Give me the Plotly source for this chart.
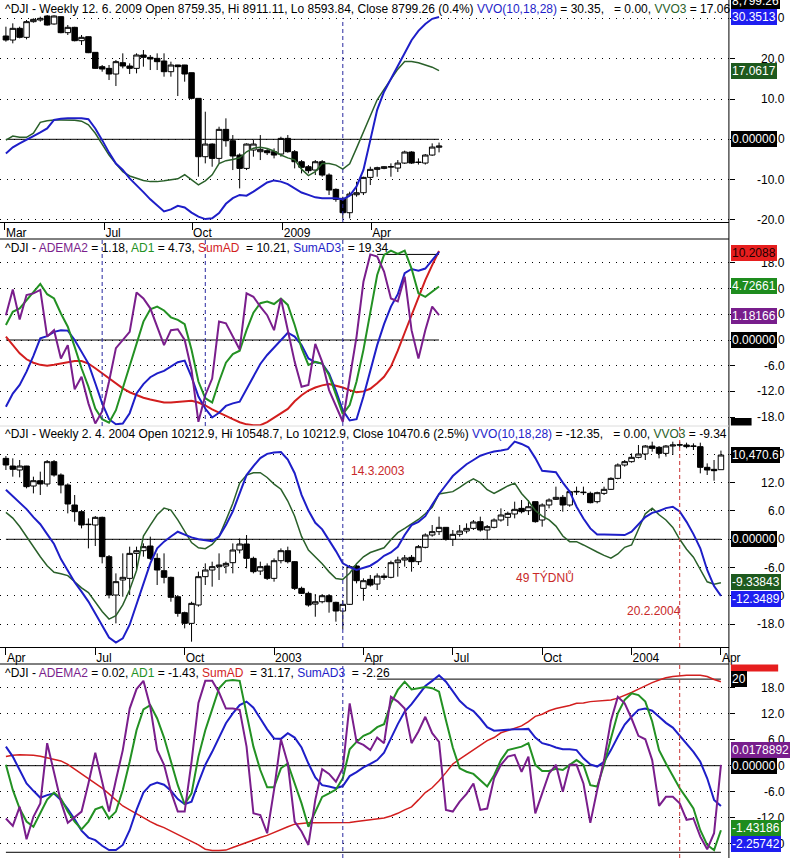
import plotly.graph_objects as go

# ============ Weekly ^DJI, Mar 2008 - Jun 2009 (panels 1 & 2) ============
OPEN_A = [12353,12224,12601,12310,12816,12870,12999,12741,12978,12461,
          12633,12202,12331,11825,11362,11308,11125,11491,11384,11308,
          11739,11664,11631,11545,11200,11416,11416,11168,10339,8454,
          8863,8400,9337,8971,8508,8077,8670,8616,8648,8616,
          8540,9046,8616,8292,8131,8023,8292,7862,7399,7108,
          6645,7226,7291,7786,8045,8077,8120,8088,8249,8605,
          8280,8249,8508,8759.35]
HIGH_A = [12654,12762,12654,12870,12924,12978,13030,13020,12990,12708,
          12650,12385,12340,11830,11416,11416,11577,11793,11470,11793,
          11901,11739,11793,11793,11524,11420,11420,11170,10340,9908,
          8885,9423,9693,9154,8562,8885,8993,9154,8724,8724,
          9100,9154,8670,8346,8185,8346,8346,7916,7431,7162,
          7323,7646,7808,8131,8131,8150,8239,8346,8650,8630,
          8400,8540,8885,8911.11]
LOW_A = [12170,12116,12277,12245,12784,12816,12690,12720,12440,12385,
         12180,12062,11800,11290,11200,10931,10737,11308,11125,11147,
         11362,11254,11254,11039,11039,10414,10877,10307,7808,8239,
         8131,8239,8777,8023,7431,8023,8454,8346,8508,8400,
         8454,8583,8077,7916,7916,7862,7808,7216,7000,6462,
         6462,7162,7216,7539,7808,8050,7808,7959,8220,8220,
         8200,8200,8480,8593.84]
CLOSE_A = [12224,12601,12310,12816,12891,12924,12708,12999,12461,12633,
           12202,12310,11814,11308,11287,11125,11524,11384,11308,11739,
           11664,11610,11524,11200,11416,11362,11125,10339,8454,8863,
           8400,9337,8971,8476,8077,8863,8863,8691,8583,8508,
           9046,8616,8292,8110,8002,8292,7862,7377,7076,6645,
           7248,7291,7786,8045,8099,8131,8131,8249,8605,8249,
           8270,8508,8766,8799.26]
VVO_A = [-3.5,-2.0,-1.0,-0.2,0.8,1.7,2.7,4.8,5.1,5.2,
         5.2,5.2,5.0,2.7,-0.2,-3.3,-6.0,-7.6,-9.7,-11.3,
         -13.1,-14.9,-16.5,-17.9,-17.4,-16.5,-16.9,-18.2,-19.2,-19.8,
         -19.6,-18.3,-16.0,-14.6,-13.8,-14.0,-13.0,-11.9,-10.7,-10.2,
         -10.5,-11.1,-12.1,-13.2,-13.8,-14.4,-14.6,-14.6,-14.6,-14.9,
         -14.0,-11.7,-7.6,-0.2,7.3,11.8,15.1,18.0,21.7,24.6,
         26.9,28.6,29.9,30.35]
VVO3_A = [-0.2,0.8,0.5,0.5,1.5,4.2,4.6,4.8,4.8,4.8,
          4.7,4.5,3.6,1.5,-1.2,-3.9,-6.1,-8.0,-9.1,-9.7,
          -10.2,-10.5,-10.5,-10.3,-10.1,-9.8,-8.8,-10.1,-11.3,-10.3,
          -8.8,-6.0,-5.3,-5.0,-4.6,-3.1,-2.2,-2.0,-2.3,-2.9,
          -3.9,-4.6,-5.1,-7.4,-9.0,-8.0,-6.0,-6.0,-6.4,-7.4,
          -6.1,-2.2,1.9,6.0,9.8,12.4,14.9,17.4,19.3,19.3,
          19.0,18.5,17.9,17.06]
ADEMA2_A = [5.8,11.8,4.8,10.5,10.9,11.7,0.8,2.3,-4.3,-1.2,
            -11.5,-8.6,-14.8,-19.5,-16.7,-9.7,-1.9,0.0,1.9,11.1,
            9.7,7.4,3.1,-1.2,2.3,2.5,0.0,-7.0,-19.1,-12.9,
            -9.0,4.3,3.9,0.8,-2.2,10.9,10.1,7.8,5.8,2.3,
            9.7,2.3,-5.1,-10.9,-10.5,-0.9,-5.1,-11.7,-15.6,-19.1,
            -9.0,0.8,13.6,20.0,19.5,16.0,9.7,9.0,14.8,2.3,
            -4.3,2.3,7.8,5.8]
AD1_A = [3.5,6.6,7.4,9.3,11.4,13.1,10.7,9.7,6.2,3.1,
         -1.6,-6.6,-10.9,-16.0,-18.5,-19.3,-16.4,-11.3,-6.2,-0.8,
         4.3,7.2,7.8,6.9,5.3,4.7,3.7,-2.3,-9.7,-13.6,
         -14.6,-9.7,-5.3,-3.3,-2.5,2.3,6.4,8.6,9.0,8.4,
         9.7,8.2,3.5,-1.9,-5.8,-5.1,-5.5,-8.2,-12.9,-17.3,
         -15.2,-9.7,-2.3,6.2,15.2,19.9,20.9,20.1,20.9,16.7,
         10.9,10.1,11.3,12.5]
SUMAD3_A = [-15.6,-12.5,-10.5,-7.4,-3.7,0.4,0.9,1.9,2.3,2.2,
            0.0,-2.9,-5.5,-10.1,-14.8,-18.5,-19.7,-19.5,-17.1,-12.5,
            -10.3,-8.7,-7.8,-7.2,-6.2,-5.2,-4.8,-8.6,-13.2,-16.0,
            -18.1,-17.0,-15.4,-14.8,-14.4,-11.5,-8.4,-5.6,-3.5,-1.7,
            0.0,1.7,0.8,-1.2,-4.3,-5.2,-5.5,-7.8,-11.8,-16.4,
            -18.8,-18.5,-13.2,-7.0,-1.2,3.7,7.8,10.7,15.6,16.6,
            16.2,16.7,18.7,20.6]
SUMAD_A = [0.8,-1.1,-3.1,-4.5,-5.3,-5.8,-6.0,-5.8,-5.5,-5.1,
           -4.9,-4.9,-5.5,-6.6,-7.8,-9.0,-10.1,-11.3,-12.2,-12.9,
           -13.5,-13.9,-14.3,-14.6,-14.6,-14.5,-14.3,-14.2,-14.6,-15.3,
           -16.2,-17.0,-17.8,-18.5,-19.2,-19.7,-19.9,-19.9,-19.2,-18.2,
           -17.1,-16.1,-14.3,-12.9,-11.8,-11.1,-10.6,-10.3,-10.7,-11.1,
           -11.7,-12.2,-12.0,-11.4,-10.1,-8.6,-6.2,-2.5,1.7,5.8,
           10.0,14.0,17.5,20.8]
TICKPOS_A = [-0.15, 14.33, 27.08, 40.26, 53.15]
TICKTEXT_A = ["Mar", "Jul", "Oct", "2009", "Apr"]
MARK_WEEKS_A1 = [49]
MARK_WEEKS_A2 = [14, 29, 49]

# ============ Weekly ^DJI, Apr 2002 - Apr 2004 (panels 3 & 4) ============
OPEN_B = [10412,10277,10207,10277,9925,10019,9961,10354,10119,9943,
          9591,9474,9245,9239,9374,8682,8007,8271,8300,8740,
          8787,8869,8652,8435,8318,7977,7696,7508,7831,8330,
          8447,8506,8517,8576,8799,8905,8652,8429,8517,8300,
          8611,8787,8594,8124,8036,7848,7889,7995,7878,7725,
          7843,8517,8124,8283,8200,8341,8318,8576,8623,8670,
          8594,8846,9063,9122,9198,8987,9075,9133,9180,9298,
          9151,9198,9327,9374,9433,9532,9491,9650,9327,9591,
          9691,9726,9591,9820,9808,9796,9650,9796,9867,10060,
          10295,10354,10430,10489,10629,10606,10500,10629,10647,10647,
          10629,10618,10254,10219,10212.9]
HIGH_B = [10453,10412,10383,10280,10090,10178,10383,10383,10148,9972,
          9767,9503,9356,9397,9386,8711,8388,8740,8858,8858,
          8916,9034,8740,8740,8330,8007,7714,7889,8418,8564,
          8594,8740,8594,8916,9004,9063,8682,8594,8564,8652,
          8828,8858,8605,8154,8066,8024,8024,8024,7889,7919,
          8535,8535,8300,8359,8388,8388,8611,8682,8711,8711,
          8887,9092,9239,9386,9200,9151,9239,9268,9327,9386,
          9239,9356,9532,9474,9650,9679,9679,9655,9620,9708,
          9914,9767,9855,9914,9914,9826,9826,9914,10078,10324,
          10383,10500,10647,10647,10706,10629,10647,10706,10706,10688,
          10676,10688,10324,10383,10548.7]
LOW_B = [10207,10090,10078,9884,9796,9767,9914,10090,9796,9444,
         9298,9180,8828,8869,8564,7948,7508,7977,8007,8459,
         8682,8623,8183,8212,7889,7625,7420,7186,7802,8183,
         8154,8271,8388,8388,8740,8476,8388,8359,8271,8242,
         8564,8564,8095,8024,7802,7625,7860,7696,7538,7403,
         7831,8212,7907,8154,8095,8271,8300,8330,8506,8418,
         8535,8828,9034,9063,8963,8869,9034,9092,9151,9122,
         8987,9180,9298,9221,9356,9444,9415,9280,9210,9532,
         9679,9474,9561,9767,9767,9620,9620,9767,9855,10043,
         10266,10336,10412,10383,10530,10412,10442,10471,10606,10588,
         10559,10148,10119,10019,10212.9]
CLOSE_B = [10295,10219,10277,9914,10019,9961,10354,10119,9943,9609,
           9474,9239,9251,9374,8682,8007,8242,8318,8740,8787,
           8858,8652,8447,8318,7966,7684,7508,7860,8330,8447,
           8506,8535,8564,8799,8905,8652,8418,8506,8300,8611,
           8787,8594,8124,8036,7831,7889,7995,7889,7725,7843,
           8506,8259,8259,8183,8341,8318,8576,8623,8660,8594,
           8858,9063,9122,9198,8987,9075,9133,9180,9292,9151,
           9210,9327,9415,9444,9515,9474,9561,9298,9591,9679,
           9726,9591,9826,9830,9815,9632,9808,9867,10060,10295,
           10354,10430,10489,10629,10588,10500,10629,10647,10650,10618,
           10625,10254,10207,10195,10470.6]
VVO_B = [10.5,9.1,7.8,6.4,4.7,3.2,1.1,-1.0,-4.2,-6.8,
         -9.1,-11.1,-13.2,-15.7,-18.3,-20.8,-21.9,-21.0,-18.1,-13.9,
         -9.5,-5.1,-1.9,-0.5,0.6,1.6,1.0,0.4,0.0,-0.2,
         -0.4,0.6,3.0,5.9,9.7,13.6,15.5,17.2,18.1,18.4,
         18.5,16.9,14.0,9.4,6.1,3.5,2.1,-0.1,-2.5,-5.1,
         -5.9,-6.5,-6.1,-5.6,-4.7,-3.5,-2.8,-1.6,0.9,3.0,
         3.7,4.9,7.3,9.6,11.5,13.4,14.7,15.9,16.8,17.7,
         18.2,18.6,18.8,19.1,20.7,20.2,19.5,17.2,14.5,14.3,
         14.2,12.0,10.1,6.9,4.4,2.3,1.0,1.0,1.0,0.9,
         0.9,1.6,3.2,4.7,5.6,6.0,6.6,6.9,5.9,3.7,
         1.1,-1.9,-6.5,-9.9,-12.0]
VVO3_B = [5.7,4.5,2.7,0.5,-1.7,-3.7,-5.6,-7.0,-7.3,-7.7,
          -9.0,-10.3,-11.3,-13.2,-15.3,-16.9,-16.2,-13.9,-10.7,-6.6,
          0.7,3.0,5.2,6.6,6.2,4.1,1.6,-0.7,-1.8,-2.0,
          -1.1,0.6,4.0,7.6,11.9,13.6,14.1,14.1,13.1,11.7,
          10.6,8.1,4.9,0.6,-2.3,-3.7,-5.2,-6.9,-8.3,-8.5,
          -7.2,-5.2,-3.7,-2.8,-2.3,-1.8,-0.1,1.4,2.3,3.2,
          4.2,5.4,6.8,9.6,9.9,10.1,11.0,12.0,12.8,12.0,
          10.5,9.7,10.5,11.3,11.9,9.7,8.1,6.1,4.9,4.1,
          2.8,0.7,-0.5,-0.5,-1.2,-2.0,-2.7,-3.4,-4.0,-3.1,
          -1.7,-1.2,2.0,5.4,6.6,5.2,4.1,2.5,0.0,-2.1,
          -3.8,-6.3,-9.0,-9.5,-9.2]
ADEMA2_B = [-12.2,-13.9,-9.5,-17.0,-11.8,-8.7,5.2,-1.8,-8.3,-13.2,
            -11.8,-10.6,-4.1,3.0,-3.7,-10.6,-3.3,3.6,13.2,17.7,
            19.6,13.6,3.6,0.2,-6.0,-10.6,-10.6,0.9,14.5,19.6,
            19.6,16.9,13.2,13.2,12.9,4.4,-11.0,-11.4,-15.6,-5.6,
            6.1,0.5,-12.9,-15.2,-18.3,-7.9,-0.8,-1.9,-3.7,-0.6,
            14.4,5.5,4.8,3.6,6.5,5.2,15.9,14.8,13.2,5.2,
            7.9,11.3,7.5,5.5,-10.2,-10.6,-8.3,-6.5,-4.1,-10.2,
            -9.9,-2.9,0.2,2.1,2.5,-1.4,2.1,-11.0,-6.4,-1.8,
            0.2,-6.0,0.2,0.2,-4.1,-13.2,-5.6,1.3,10.4,15.9,
            14.4,10.9,6.9,6.1,1.3,-9.3,-7.2,-7.2,-8.7,-12.5,
            -12.2,-16.4,-19.3,-15.6,0.2]
AD1_B = [0.2,-5.6,-9.9,-12.9,-14.1,-11.0,-7.8,-6.2,-7.6,-10.6,
         -12.9,-14.7,-12.9,-10.1,-9.5,-12.2,-10.6,-5.6,0.9,8.2,
         13.0,14.0,10.9,6.5,0.9,-4.5,-8.9,-6.4,2.1,8.2,
         13.0,17.9,19.6,19.8,19.6,12.1,4.4,-1.0,-5.0,-5.0,
         -0.6,0.5,-3.9,-8.7,-14.1,-10.8,-7.2,-6.4,-5.5,-2.9,
         3.8,5.5,6.9,7.6,8.9,9.6,14.4,17.5,19.4,17.6,
         17.9,18.2,17.9,17.1,10.5,4.2,-0.6,-1.4,-1.9,-3.3,
         -4.8,-2.2,1.3,3.6,4.0,4.4,5.2,0.2,-1.2,-1.2,
         -0.7,-1.0,0.2,1.3,0.2,-4.5,-4.8,0.2,6.3,12.1,
         15.2,16.7,16.3,14.8,10.2,3.6,0.5,-2.2,-5.2,-7.5,
         -9.9,-14.9,-18.3,-19.5,-14.9]
SUMAD3_B = [4.4,2.1,-1.0,-4.1,-5.8,-7.4,-6.8,-6.4,-7.9,-10.0,
            -12.4,-15.0,-16.6,-17.2,-18.5,-19.5,-19.5,-18.3,-14.9,-10.2,
            -6.2,-4.5,-3.9,-4.4,-5.8,-7.7,-8.9,-8.3,-3.9,0.2,
            3.2,6.7,9.8,12.1,14.0,14.8,13.4,10.9,8.4,6.3,
            6.2,7.5,6.5,4.2,0.5,-2.7,-4.5,-4.8,-5.2,-4.7,
            -2.4,-1.5,-0.4,0.4,1.3,3.0,6.3,9.6,12.5,14.2,
            16.3,18.4,19.6,20.9,19.4,17.3,15.0,13.5,12.6,10.9,
            8.9,8.1,8.2,8.4,8.4,8.4,8.5,6.5,5.2,4.8,
            4.2,3.8,3.8,3.6,1.7,0.3,-0.2,0.9,3.6,6.7,
            9.5,11.3,12.9,13.2,12.7,11.3,9.9,8.8,6.9,5.0,
            3.2,0.9,-2.9,-7.9,-9.3]
SUMAD_B = [2.1,2.4,2.5,2.5,2.4,2.2,1.8,1.5,1.1,0.3,
           -0.8,-1.8,-2.9,-3.9,-5.2,-6.5,-7.9,-9.3,-10.2,-11.2,
           -12.0,-12.9,-13.7,-14.3,-15.1,-15.9,-16.6,-17.4,-18.3,-19.3,
           -19.6,-19.6,-19.5,-18.9,-18.3,-17.7,-17.2,-16.6,-16.1,-15.4,
           -14.7,-14.1,-13.5,-13.3,-13.2,-13.2,-13.2,-13.2,-13.2,-13.2,
           -13.1,-12.9,-12.7,-12.5,-12.3,-12.1,-11.6,-11.0,-10.2,-9.5,
           -7.9,-6.2,-5.1,-3.5,-1.6,0.4,1.5,2.6,3.6,4.8,
           5.8,6.5,7.6,8.1,8.6,9.2,10.2,11.4,11.9,12.7,
           13.2,13.5,13.9,14.4,14.5,14.8,14.9,15.0,15.2,15.6,
           16.2,16.9,17.7,18.5,19.2,19.8,20.3,20.6,20.8,20.9,
           20.9,20.9,20.6,19.9,19.4]
TICKPOS_B = [0, 13, 26, 39, 52, 65, 78, 91, 104]
TICKTEXT_B = ["Apr", "Jul", "Oct", "2003", "Apr", "Jul", "Oct", "2004", "Apr"]
MARK_WEEK_B_BLUE = 49   # 14.3.2003
MARK_WEEK_B_RED = 98    # 20.2.2004
LEVEL_START = 54

# ======================= styling / layout =======================
FONT = "Liberation Sans, Arial, sans-serif"
W, H = 801, 858
XR = 740
BLUE = "#1e1ec8"
DKGREEN = "#2a602a"
GREEN = "#239123"
PURPLE = "#7a1e8c"
RED = "#d21e1e"
ANN_RED = "#c82828"


def py(p):
    return 1 - p / H


def px(p):
    return p / W


idxA = list(range(len(CLOSE_A)))
idxB = list(range(len(CLOSE_B)))
nA, nB = len(idxA) - 1, len(idxB) - 1


def line(x, y, color, width, xa, ya):
    return go.Scatter(x=x, y=y, mode="lines", line=dict(color=color, width=width),
                      xaxis=xa, yaxis=ya, hoverinfo="skip", showlegend=False)


def candles(o, h, l, c, xa, ya):
    return go.Candlestick(x=list(range(len(c))), open=o, high=h, low=l, close=c,
                          xaxis=xa, yaxis=ya, whiskerwidth=0,
                          increasing=dict(line=dict(color="black", width=1), fillcolor="white"),
                          decreasing=dict(line=dict(color="black", width=1), fillcolor="black"),
                          hoverinfo="skip", showlegend=False)


traces = [
    # panel 1
    candles(OPEN_A, HIGH_A, LOW_A, CLOSE_A, "x", "y"),
    line([0, nA], [0, 0], "black", 1, "x", "y5"),
    line(idxA, VVO3_A, DKGREEN, 1.5, "x", "y5"),
    line(idxA, VVO_A, BLUE, 2, "x", "y5"),
    # panel 2
    line([0, nA], [0, 0], "black", 1, "x", "y2"),
    line([LEVEL_START, nA], [20, 20], "black", 1, "x", "y2"),
    line(idxA, SUMAD_A, RED, 2, "x", "y2"),
    line(idxA, SUMAD3_A, BLUE, 2, "x", "y2"),
    line(idxA, AD1_A, GREEN, 2, "x", "y2"),
    line(idxA, ADEMA2_A, PURPLE, 2, "x", "y2"),
    # panel 3
    candles(OPEN_B, HIGH_B, LOW_B, CLOSE_B, "x2", "y3"),
    line([0, nB], [0, 0], "black", 1, "x2", "y6"),
    line(idxB, VVO3_B, DKGREEN, 1.5, "x2", "y6"),
    line(idxB, VVO_B, BLUE, 2, "x2", "y6"),
    # panel 4
    line([0, nB], [0, 0], "black", 1, "x2", "y4"),
    line([LEVEL_START, nB], [20, 20], "black", 1, "x2", "y4"),
    line([0, nB], [-20, -20], "black", 1, "x2", "y4"),
    line(idxB, SUMAD_B, RED, 1.5, "x2", "y4"),
    line(idxB, SUMAD3_B, BLUE, 2, "x2", "y4"),
    line(idxB, AD1_B, GREEN, 2, "x2", "y4"),
    line(idxB, ADEMA2_B, PURPLE, 2, "x2", "y4"),
]

fig = go.Figure(traces)

XRANGE = [-0.86, 105.16]
xcommon = dict(range=XRANGE, domain=[0, px(XR)], showgrid=False, zeroline=False,
               showline=True, linecolor="black", linewidth=1, ticks="outside", ticklen=7,
               tickcolor="black", tickwidth=1, ticklabelposition="outside right",
               tickfont=dict(family=FONT, size=12, color="black"),
               rangeslider=dict(visible=False), fixedrange=True)

OSC_TICKS = [-18, -12, -6, 0, 6, 12, 18]
OSC_TICKS_1 = [-20, -10, 0, 10, 20, 30]


def osc_axis(rng, tickvals, **kw):
    d = dict(range=rng, side="right", tickvals=tickvals, showticklabels=False,
             ticks="outside", ticklen=5, tickcolor="black", showgrid=True,
             gridcolor="black", gridwidth=1, griddash="1px,6px", zeroline=False,
             showline=False, fixedrange=True)
    d.update(kw)
    return d


hidden = dict(visible=False, showgrid=False, zeroline=False, fixedrange=True)

# ---------------- annotations ----------------
ann = []


def ylabels(vals, yref):
    for v in vals:
        ann.append(dict(text=f"{v:.1f}", xref="paper", x=px(799), xanchor="right",
                        yref=yref, y=v, yanchor="middle", showarrow=False,
                        font=dict(family=FONT, size=12, color="black")))


def tag(text, yref, y, bg, fg="white", yanchor="middle"):
    ann.append(dict(text=text, xref="paper", x=px(742), xanchor="left", yref=yref, y=y,
                    yanchor=yanchor, showarrow=False, bgcolor=bg, borderpad=1, borderwidth=0,
                    font=dict(family=FONT, size=12, color=fg)))


def title(text, ypx):
    ann.append(dict(text=text, xref="paper", x=px(3), xanchor="left", yref="paper",
                    y=py(ypx), yanchor="middle", showarrow=False,
                    font=dict(family=FONT, size=12, color="black")))


def c(txt, col):
    return f"<span style='color:{col}'>{txt}</span>"


S3 = "\u00a0\u00a0\u00a0"
S2 = "\u00a0\u00a0"
title("^DJI - Weekly 12. 6. 2009 Open 8759.35, Hi 8911.11, Lo 8593.84, Close 8799.26 (0.4%) "
      + c("VVO(10,18,28)", BLUE) + " = 30.35," + S3 + "= 0.00, " + c("VVO3", DKGREEN) + " = 17.06", 8.5)
title("^DJI - " + c("ADEMA2", PURPLE) + " = 1.18, " + c("AD1", GREEN) + " = 4.73, "
      + c("SumAD", RED) + S2 + "= 10.21, " + c("SumAD3", BLUE) + S2 + "= 19.34", 248)
title("^DJI - Weekly 2. 4. 2004 Open 10212.9, Hi 10548.7, Lo 10212.9, Close 10470.6 (2.5%) "
      + c("VVO(10,18,28)", BLUE) + " = -12.35," + S3 + "= 0.00, " + c("VVO3", DKGREEN) + " = -9.34", 434)
title("^DJI - " + c("ADEMA2", PURPLE) + " = 0.02, " + c("AD1", GREEN) + " = -1.43, "
      + c("SumAD", RED) + S2 + "= 31.17, " + c("SumAD3", BLUE) + S2 + "= -2.26", 673)

ylabels(OSC_TICKS_1, "y5")
ylabels(OSC_TICKS, "y2")
ylabels(OSC_TICKS, "y6")
ylabels(OSC_TICKS, "y4")

# value tags (right side)
ann.append(dict(text="8,799.26", xref="paper", x=px(742), xanchor="left", yref="paper",
                y=py(8.5), yanchor="bottom", showarrow=False, bgcolor="black", borderpad=1,
                borderwidth=0, font=dict(family=FONT, size=12, color="white")))
tag("30.3513", "y5", 30.35, "#1e1ef0")
tag("17.0617", "y5", 17.06, "#1e5a1e")
tag("0.00000", "y5", 0, "black")
tag("10.2088", "y2", 20.4, "#e61e1e", fg="#200000")
tag("4.72661", "y2", 12.6, "#1e8c1e")
tag("1.18166", "y2", 5.6, "#781e8c")
tag("0.00000", "y2", 0, "black")
tag("10,470.6", "y3", 10470.6, "black")
tag("0.00000", "y6", 0, "black")
tag("-9.33843", "y6", -9.0, "#1e5a1e")
tag("-12.3489", "y6", -12.55, "#1e1ef0")
tag("20", "y4", 20, "black")
tag("0.0178892", "y4", 3.7, "#781e8c")
tag("0.00000", "y4", 0, "black")
tag("-1.43186", "y4", -14.5, "#1e8c1e")
tag("-2.25742", "y4", -18.0, "#1e1ef0")

# red notes in panel 3
for txt, xw, yv in [("14.3.2003", 49.93, 14.5), ("49 TÝDNŮ", 73.96, -8.0), ("20.2.2004", 90.1, -15.2)]:
    ann.append(dict(text=txt, xref="x2", x=xw, xanchor="left", yref="y6", y=yv,
                    yanchor="middle", showarrow=False,
                    font=dict(family=FONT, size=12, color=ANN_RED)))

# ---------------- shapes ----------------
shapes = []


def hline(ypx, color="black"):
    shapes.append(dict(type="line", xref="paper", yref="paper", x0=0, x1=px(XR),
                       y0=py(ypx), y1=py(ypx), line=dict(color=color, width=1)))


def vdash(xref, xw, y0px, y1px, color):
    shapes.append(dict(type="line", xref=xref, yref="paper", x0=xw, x1=xw,
                       y0=py(y1px), y1=py(y0px), line=dict(color=color, width=1, dash="4px,3px")))


shapes.append(dict(type="line", xref="paper", yref="paper", x0=px(XR), x1=px(XR), y0=0, y1=1,
                   line=dict(color="black", width=1)))
hline(239)
hline(426, "#dcdcdc")
hline(664)
for wk in MARK_WEEKS_A1:
    vdash("x", wk, 18, 222, "#2828a0")
for wk in MARK_WEEKS_A2:
    vdash("x", wk, 239, 426, "#2828a0")
vdash("x2", MARK_WEEK_B_BLUE, 441, 647, "#2828a0")
vdash("x2", MARK_WEEK_B_RED, 427, 647, "#c83232")
vdash("x2", MARK_WEEK_B_BLUE, 666, 858, "#2828a0")
vdash("x2", MARK_WEEK_B_RED, 664, 858, "#c83232")
# partially hidden tags
shapes.append(dict(type="rect", xref="paper", yref="paper", x0=px(742), x1=px(790),
                   y0=py(671.5), y1=py(664.5), fillcolor="#e61e1e", line=dict(width=0)))
shapes.append(dict(type="rect", xref="paper", yref="paper", x0=px(742), x1=px(763),
                   y0=py(425.5), y1=py(418), fillcolor="black", line=dict(width=0)))

fig.update_layout(
    width=W, height=H, margin=dict(l=0, r=0, t=0, b=0), autosize=False,
    paper_bgcolor="white", plot_bgcolor="white", showlegend=False,
    boxgap=0.2, boxgroupgap=0.0,
    xaxis=dict(xcommon, anchor="y", tickvals=TICKPOS_A, ticktext=TICKTEXT_A),
    xaxis2=dict(xcommon, anchor="y3", tickvals=TICKPOS_B, ticktext=TICKTEXT_B),
    yaxis=dict(hidden, domain=[py(222), 1], range=[6345, 13516]),
    yaxis5=osc_axis([-20.52, 34.57], OSC_TICKS_1, overlaying="y", anchor="x"),
    yaxis2=osc_axis([-20.09, 23.60], OSC_TICKS, domain=[py(426), py(239)], anchor="x"),
    yaxis3=dict(hidden, domain=[py(647), py(427)], range=[7092, 10964], anchor="x2"),
    yaxis6=osc_axis([-22.82, 23.79], OSC_TICKS, overlaying="y3", anchor="x2"),
    yaxis4=osc_axis([-21.32, 23.49], OSC_TICKS, domain=[0, py(664)], anchor="x2"),
    annotations=ann, shapes=shapes, hovermode=False,
)

fig.write_html("out.html", config=dict(displayModeBar=False, staticPlot=True))
